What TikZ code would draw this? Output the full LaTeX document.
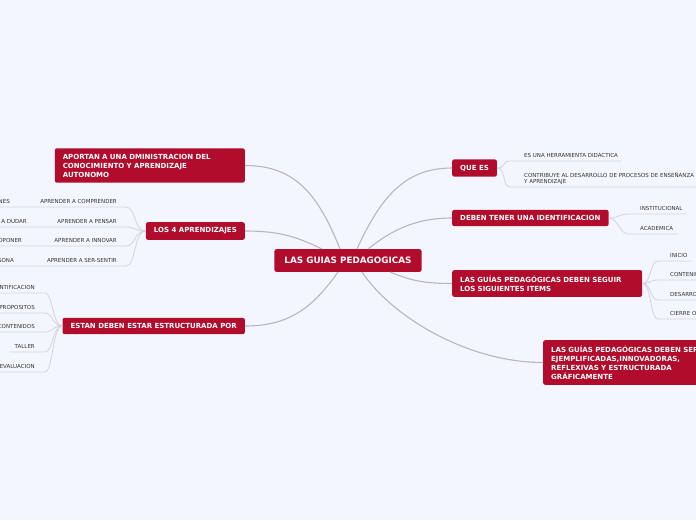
\documentclass[tikz,border=0pt]{standalone}
\usepackage{fontspec}
\setmainfont{DejaVu Sans}
\definecolor{fondo}{HTML}{F3F6FE}
\definecolor{rojo}{HTML}{B20C2C}
\definecolor{enlace}{HTML}{B6B7BF}
\definecolor{linea}{HTML}{D2D4DC}
\definecolor{texto}{HTML}{333333}
\tikzset{
  tema/.style={fill=rojo, rounded corners=2pt, text=white, inner xsep=8pt, inner ysep=5.5pt,
    font=\bfseries\fontsize{7}{9}\selectfont, align=left},
  central/.style={tema, inner xsep=10pt, inner ysep=8pt, font=\bfseries\fontsize{8.8}{10}\selectfont},
  hoja/.style={text=texto, inner xsep=0pt, inner ysep=3pt, text depth=0pt,
    font=\fontsize{5.5}{6.4}\selectfont, align=left},
  rama/.style={draw=enlace, line width=1.1pt},
  sub/.style={draw=linea, line width=0.8pt},
}
\begin{document}
\begin{tikzpicture}[x=1pt, y=-1pt]
        % fondo y recorte
        \fill[fondo] (0,0) rectangle (696,520);
        \path[use as bounding box, clip] (0,0) rectangle (696,520);

        % nodo central
        \node[central] (guias) at (348,260.5) {LAS GUIAS PEDAGOGICAS};

        % temas de la izquierda
        \node[tema, text width=174pt, anchor=east] (aportan) at (245,165.5)
          {APORTAN A UNA DMINISTRACION DEL\\CONOCIMIENTO Y APRENDIZAJE\\AUTONOMO};
        \node[tema, anchor=east] (cuatro) at (245,231) {LOS 4 APRENDIZAJES};
        \node[tema, anchor=east] (estan) at (245,326) {ESTAN DEBEN ESTAR ESTRUCTURADA POR};

        % temas de la derecha
        \node[tema, anchor=west] (quees) at (452,168) {QUE ES};
        \node[tema, anchor=west] (identif) at (452,218) {DEBEN TENER UNA IDENTIFICACION};
        \node[tema, text width=174pt, anchor=west] (seguir) at (452,283.5)
          {LAS GUÍAS PEDAGÓGICAS DEBEN SEGUIR\\LOS SIGUIENTES ITEMS};
        \node[tema, text width=174pt, anchor=west] (ser) at (543,362.5)
          {LAS GUÍAS PEDAGÓGICAS DEBEN SER\\EJEMPLIFICADAS,INNOVADORAS,\\REFLEXIVAS Y ESTRUCTURADA\\GRÁFICAMENTE};

        % ramas del nodo central
        \draw[rama] ([xshift=-8pt]guias.north) .. controls +(-22,-55) and +(50,0) .. (aportan.east);
        \draw[rama] ([xshift=-26pt]guias.north) .. controls +(-25,-12) and +(35,0) .. (cuatro.east);
        \draw[rama] ([xshift=-10pt]guias.south) .. controls +(-25,35) and +(45,0) .. (estan.east);
        \draw[rama] ([xshift=9pt]guias.north) .. controls +(25,-55) and +(-45,0) .. (quees.west);
        \draw[rama] ([xshift=20pt]guias.north) .. controls +(25,-20) and +(-35,0) .. (identif.west);
        \draw[rama] ([xshift=42pt]guias.south) .. controls +(20,8) and +(-30,0) .. (seguir.west);
        \draw[rama] ([xshift=14pt]guias.south) .. controls +(30,45) and +(-75,0) .. (ser.west);

        % los 4 aprendizajes
        \node[hoja, anchor=south east] (comprender) at (117,207) {APRENDER A COMPRENDER};
        \node[hoja, anchor=south east] (pensar) at (117,227) {APRENDER A PENSAR};
        \node[hoja, anchor=south east] (innovar) at (117,246) {APRENDER A INNOVAR};
        \node[hoja, anchor=south east] (sentir) at (117,266) {APRENDER A SER-SENTIR};
        \node[hoja, anchor=south east] (decidir) at (10,207) {APRENDER A TOMAR DECISIONES};
        \node[hoja, anchor=south east] (dudar) at (27,227) {APRENDER A DUDAR};
        \node[hoja, anchor=south east] (proponer) at (22,246) {APRENDER A PROPONER};
        \node[hoja, anchor=south east] (persona) at (14,266) {APRENDER A SER PERSONA};
        \foreach \a/\b in {comprender/decidir, pensar/dudar, innovar/proponer, sentir/persona}
          \draw[sub] (cuatro.west) .. controls +(-12,0) and +(10,0) .. ([xshift=9pt]\a.south east)
            -- (\a.south west) -- ([xshift=-4pt]\b.south west);

        % estructura
        \node[hoja, anchor=south east] (ident) at (35,293) {IDENTIFICACION};
        \node[hoja, anchor=south east] (prop) at (35,313) {PROPOSITOS};
        \node[hoja, anchor=south east] (cont) at (35,332) {CONTENIDOS};
        \node[hoja, anchor=south east] (taller) at (35,352) {TALLER};
        \node[hoja, anchor=south east] (eval) at (35,372) {EVALUACION};
        \foreach \h in {ident, prop, cont, taller, eval}
          \draw[sub] (estan.west) .. controls +(-10,0) and +(8,0) .. ([xshift=10pt]\h.south east)
            -- ([xshift=-5pt]\h.south west);

        % que es
        \node[hoja, anchor=south west] (herram) at (524,161) {ES UNA HERRAMIENTA DIDACTICA};
        \node[hoja, anchor=south west] (contrib) at (524,187)
          {CONTRIBUYE AL DESARROLLO DE PROCESOS DE ENSEÑANZA\\Y APRENDIZAJE};
        \foreach \h in {herram, contrib}
          \draw[sub] (quees.east) .. controls +(9,0) and +(-8,0) .. ([xshift=-14pt]\h.south west)
            -- ([xshift=3pt]\h.south east);

        % identificacion
        \node[hoja, anchor=south west] (instit) at (640,214) {INSTITUCIONAL};
        \node[hoja, anchor=south west] (academ) at (640,234) {ACADEMICA};
        \foreach \h in {instit, academ}
          \draw[sub] (identif.east) .. controls +(9,0) and +(-8,0) .. ([xshift=-12pt]\h.south west)
            -- ([xshift=4pt]\h.south east);

        % items
        \node[hoja, anchor=south west] (inicio) at (670,261) {INICIO};
        \node[hoja, anchor=south west] (conten) at (670,280) {CONTENIDOS};
        \node[hoja, anchor=south west] (desarr) at (670,300) {DESARROLLO};
        \node[hoja, anchor=south west] (cierre) at (670,319) {CIERRE O CONCLUSION};
        \foreach \h in {inicio, conten, desarr, cierre}
          \draw[sub] (seguir.east) .. controls +(9,0) and +(-8,0) .. ([xshift=-12pt]\h.south west)
            -- ([xshift=4pt]\h.south east);
    \end{tikzpicture}
\end{document}
